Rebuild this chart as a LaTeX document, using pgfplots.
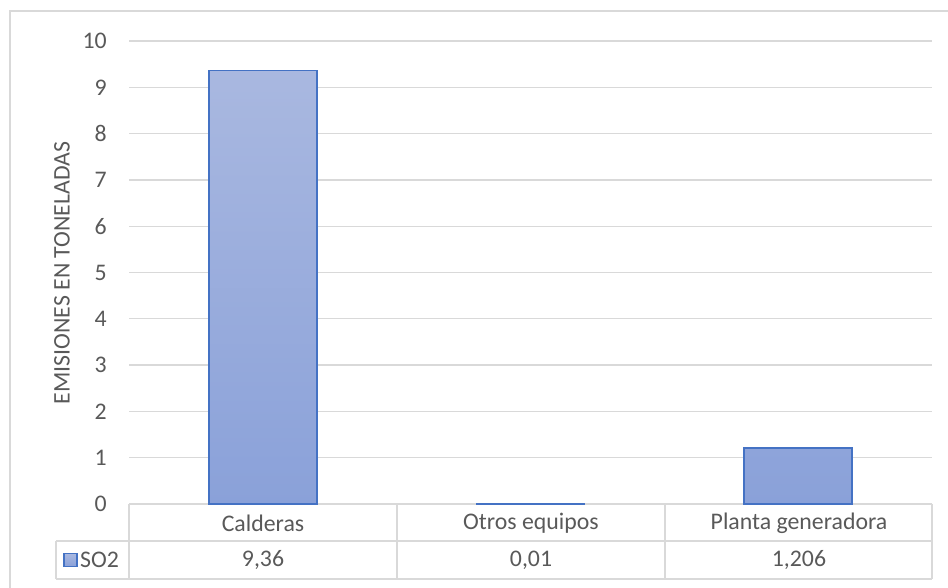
\documentclass[border=0pt]{standalone}
\usepackage{fontspec}
\setmainfont{Carlito}
\usepackage{pgfplots}
\pgfplotsset{compat=1.18}
\definecolor{txt}{HTML}{595959}
\definecolor{gridc}{HTML}{D9D9D9}
\definecolor{edge}{HTML}{4472C4}
\definecolor{btop}{HTML}{A9B8E0}
\definecolor{bbot}{HTML}{8AA1D9}
\begin{document}%
\fontsize{23.8}{28}\selectfont%
\begin{tikzpicture}[x=1pt,y=1pt]
\path[use as bounding box] (0,0) rectangle (948,588);
\draw[gridc, line width=1.3pt] (10,0) -- (10,577) -- (948,577);
% data table (drawn below the bars)
\draw[gridc, line width=1.3pt] (129,84) -- (932,84);
\draw[gridc, line width=1.3pt] (56,47) -- (932,47);
\draw[gridc, line width=1.3pt] (56,9) -- (932,9);
\draw[gridc, line width=1.3pt] (56,47) -- (56,9);
\foreach \xx in {129,397,665,932} \draw[gridc, line width=1.3pt] (\xx,84) -- (\xx,9);
\begin{axis}[
  at={(129pt,84pt)}, anchor=south west,
  scale only axis, width=803pt, height=463pt,
  xmin=-0.5, xmax=2.5, ymin=0, ymax=10,
  ytick={1,2,...,10}, extra y ticks={0}, extra y tick style={grid=none},
  xtick=\empty,
  axis line style={draw=none},
  ymajorgrids, grid style={gridc, line width=1.3pt},
  major tick length=0pt,
  /pgf/number format/assume math mode=true,
  yticklabel style={text=txt, font=\fontsize{23.8}{28}\selectfont, inner sep=0pt, xshift=-22pt},
  clip=false,
]
\addplot[ybar, bar width=108pt, bar shift=0pt, draw=edge, line width=1.6pt, top color=btop, bottom color=bbot]
  coordinates {(0,9.36) (1,0.01) (2,1.206)};
\end{axis}
\node[text=txt] at (263,65) {Calderas};
\node[text=txt] at (531,65) {Otros equipos};
\node[text=txt] at (799,65) {Planta generadora};
\node[text=txt] at (263,28) {9,36};
\node[text=txt] at (531,28) {0,01};
\node[text=txt] at (799,28) {1,206};
\draw[edge, line width=1.3pt, top color=btop, bottom color=bbot] (64,21.5) rectangle (77,34.5);
\node[text=txt, anchor=west, inner sep=0pt] at (80,28) {SO2};
\node[text=txt, rotate=90] at (62,315) {EMISIONES EN TONELADAS};
\end{tikzpicture}%
\end{document}
